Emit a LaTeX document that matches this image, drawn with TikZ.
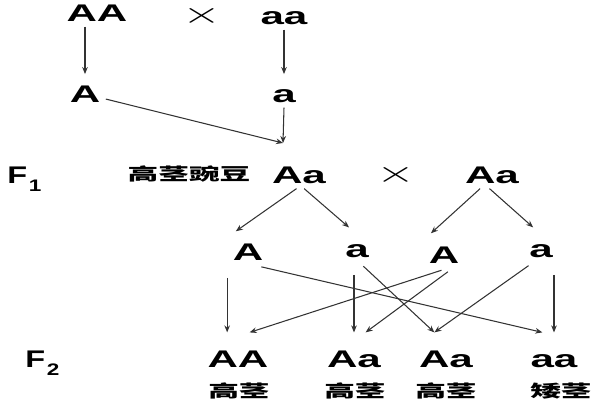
\documentclass[tikz,border=0pt]{standalone}
\usepackage{fontspec}
\setmainfont{Liberation Sans}
\newfontfamily\genofont[FakeStretch=1.75]{Liberation Sans}
\newfontfamily\genlabfont[FakeStretch=1.35]{Liberation Sans}
\newfontfamily\cjkfont[FakeStretch=1.8]{Noto Sans CJK SC}
\usetikzlibrary{arrows.meta}

\tikzset{
  geno/.style={font=\genofont\bfseries\fontsize{13.7}{16}\selectfont, inner sep=3pt, text height=9.7pt, text depth=0pt, anchor=base},
  offspring/.style={geno, text height=16.5pt},
  cross/.style={font=\fontsize{19}{21}\selectfont, inner sep=0pt, text height=9pt, text depth=0pt, xscale=1.65, transform shape},
  trait/.style={font=\cjkfont\bfseries\fontsize{9.7}{11}\selectfont, inner sep=0pt},
  gen/.style={font=\genlabfont\bfseries\fontsize{13.7}{16}\selectfont, inner sep=0pt, anchor=base west},
  arr/.style={-{Stealth[length=4pt,width=3.2pt]}, line width=0.6pt, black!80},
}

\begin{document}
\begin{tikzpicture}[x=0.02cm, y=-0.02cm]
        \useasboundingbox (0,0) rectangle (600,400);

        \node[geno] (pAA) at (97,21) {AA};
        \node[cross] (x1) at (202,16) {$\times$};
        \node[geno] (paa) at (284,24) {aa};
        \node[geno] (gA) at (85,102) {A};
        \node[geno] (ga) at (284,102) {a};
        \coordinate (join) at (283,143);

        \draw[arr, shorten >=3pt] (pAA.south -| gA.north) -- (gA.north);
        \draw[arr, shorten >=3pt] (paa.south -| ga.north) -- (ga.north);
        \draw[arr] (ga.south) -- (join);
        \draw[arr] (gA.-15) -- (join);


        \node[gen] (F1) at (7,183) {F\kern1pt\raisebox{-5pt}{\fontsize{9.5}{10}\selectfont 1}};
        \node[trait] (tallpea) at (189,174) {高茎豌豆};
        \node[geno] (fAa) at (299,183) {Aa};
        \node[cross] (x2) at (396,175) {$\times$};
        \node[geno] (sAa) at (492,183) {Aa};

        \node[geno] (gA1) at (248,260) {A};
        \node[geno] (ga1) at (357,257) {a};
        \node[geno] (gA2) at (444,263) {A};
        \node[geno] (ga2) at (541,257) {a};

        \draw[arr, shorten >=6pt] (fAa.-100) -- (gA1.north west);
        \draw[arr, shorten >=6pt] (fAa.-70) -- (ga1.north);
        \draw[arr, shorten >=6pt] (sAa.-130) -- (gA2.north west);
        \draw[arr, shorten >=6pt] (sAa.-100) -- (ga2.north);


        \node[gen] (F2) at (25,367) {F\kern1pt\raisebox{-5pt}{\fontsize{9.5}{10}\selectfont 2}};
        \node[offspring] (oAA) at (238,367) {AA};
        \node[offspring] (oAa1) at (354,367) {Aa};
        \node[offspring] (oAa2) at (446,367) {Aa};
        \node[offspring] (oaa) at (554,367) {aa};
        \node[trait] (tall1) at (239,391) {高茎};
        \node[trait] (tall2) at (355,391) {高茎};
        \node[trait] (tall3) at (446,391) {高茎};
        \node[trait] (dwarf) at (561,391) {矮茎};

        \draw[arr, shorten <=7pt] (gA1.south west) -- (gA1.south west |- oAA.north);
        \draw[arr, shorten <=7pt] (ga1.south -| oAa1.north) -- (oAa1.north);
        \draw[arr, shorten <=7pt] (ga2.south -| oaa.north) -- (oaa.north);
        \draw[arr, shorten <=3pt] (gA1.-60) -- (oaa.120);
        \draw[arr, shorten <=3pt] (ga1.-80) -- (oAa2.120);
        \draw[arr, shorten <=3pt] (gA2.-80) -- (oAA.60);
        \draw[arr, shorten <=3pt] (gA2.-60) -- (oAa1.60);
        \draw[arr, shorten <=3pt] (ga2.-120) -- (oAa2.120);
\end{tikzpicture}
\end{document}
